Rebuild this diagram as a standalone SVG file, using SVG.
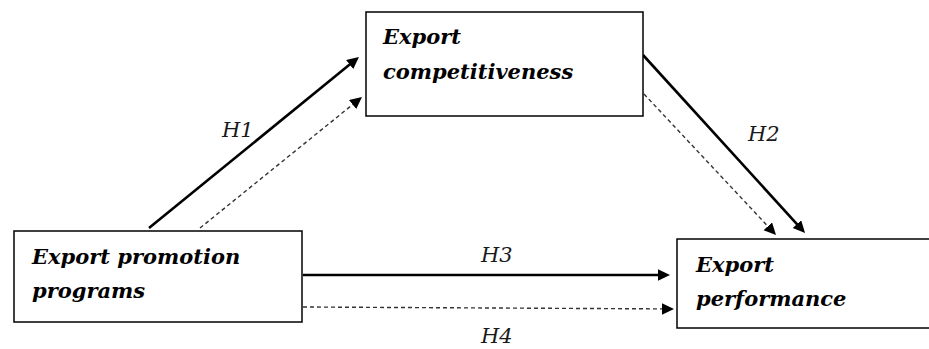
<svg xmlns="http://www.w3.org/2000/svg" width="929" height="349" viewBox="0 0 929 349">
  <defs>
    <style>
      .box { fill: #ffffff; stroke: #000000; stroke-width: 1.5; }
      .name { font-family: "DejaVu Serif", "Liberation Serif", serif; font-style: italic; font-weight: bold; font-size: 21px; fill: #000000; }
      .hyp { font-family: "DejaVu Serif", "Liberation Serif", serif; font-style: italic; font-size: 21px; fill: #1a1a1a; }
      .solid { stroke: #000000; stroke-width: 2.6; fill: none; marker-end: url(#head); }
      .dashed { stroke: #333333; stroke-width: 1.4; stroke-dasharray: 4 3; fill: none; marker-end: url(#head); }
    </style>
    <marker id="head" markerUnits="userSpaceOnUse" markerWidth="13" markerHeight="12" refX="2" refY="5.75" orient="auto">
      <path d="M0,0 L12,5.75 L0,11.5 Z" fill="#000000"/>
    </marker>
  </defs>

  <rect width="929" height="349" fill="#ffffff"/>

  <g id="connectors">
    <!-- H1: promotion programs -> competitiveness -->
    <line class="solid" x1="149" y1="228" x2="351.2" y2="63.3"/>
    <line class="dashed" x1="200" y1="228" x2="354.2" y2="103.3"/>
    <!-- H2: competitiveness -> performance -->
    <line class="solid" x1="643" y1="55" x2="798.3" y2="225.6"/>
    <line class="dashed" x1="644" y1="94" x2="769.2" y2="227.7"/>
    <!-- H3 / H4: promotion programs -> performance -->
    <line class="solid" x1="303" y1="275" x2="660" y2="275"/>
    <line class="dashed" x1="303" y1="307" x2="664" y2="308.9"/>
    <text class="hyp" x="222" y="137">H1</text>
    <text class="hyp" x="748" y="141">H2</text>
    <text class="hyp" x="481" y="262">H3</text>
    <text class="hyp" x="481" y="343">H4</text>
  </g>

  <g id="programs">
    <rect class="box" x="14" y="231" width="288" height="91"/>
    <text class="name" x="32" y="264">Export promotion</text>
    <text class="name" x="32" y="298">programs</text>
  </g>

  <g id="competitiveness">
    <rect class="box" x="366" y="12" width="277" height="104"/>
    <text class="name" x="383" y="44">Export</text>
    <text class="name" x="383" y="79">competitiveness</text>
  </g>

  <g id="performance">
    <rect class="box" x="677" y="239" width="270" height="89"/>
    <text class="name" x="696" y="272">Export</text>
    <text class="name" x="696" y="306">performance</text>
  </g>
</svg>
